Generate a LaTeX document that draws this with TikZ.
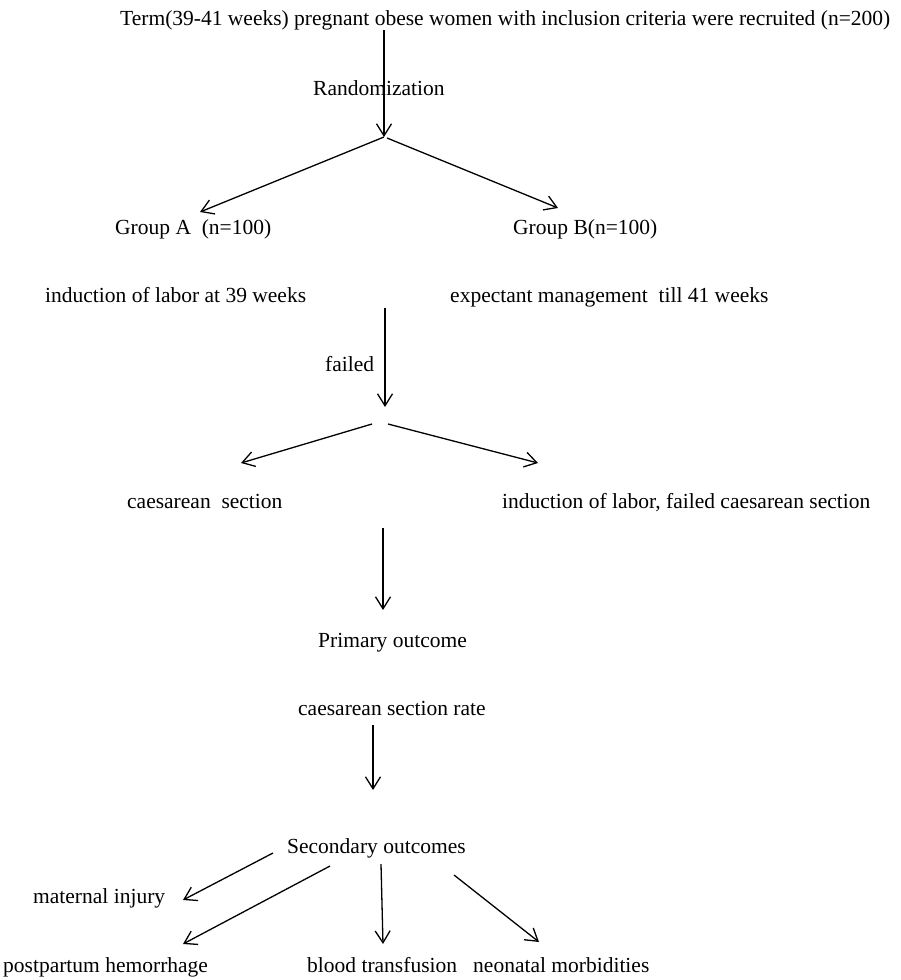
\documentclass[tikz,border=0pt]{standalone}
\usepackage{fontspec}
\setmainfont{Liberation Serif}
\usetikzlibrary{arrows.meta, positioning}

\begin{document}
\begin{tikzpicture}[
		x=1pt, y=-1pt,
		txt/.style={inner sep=0pt, anchor=base west, font=\fontsize{21.5}{26}\selectfont},
		arrow/.style={-{Straight Barb[length=12pt, width=15pt, line width=1.3pt]}, line width=1.3pt},
		plain/.style={line width=1.3pt}
		]
		\useasboundingbox (0,0) rectangle (901,980);
		
		% Nodes
		\node[txt] (term) at (120,25) {Term(39-41 weeks) pregnant obese women with inclusion criteria were recruited (n=200)};
		\node[txt] (rand) at (313,95) {Randomization};
		\node[txt] (grpa) at (115,234) {Group A\ \ (n=100)};
		\node[txt] (grpb) at (513,234) {Group B(n=100)};
		\node[txt] (induct) at (45,302) {induction of labor at 39 weeks};
		\node[txt] (expect) at (450,302) {expectant management\ \ till 41 weeks};
		\node[txt] (failed) at (325,371) {failed};
		\node[txt] (cs) at (127,508) {caesarean\ \ section};
		\node[txt] (iolcs) at (502,508) {induction of labor, failed caesarean section};
		\node[txt] (prim) at (318,647) {Primary outcome};
		\node[txt] (csrate) at (298,715) {caesarean section rate};
		\node[txt] (second) at (287,853) {Secondary outcomes};
		\node[txt] (injury) at (33,903) {maternal injury};
		\node[txt] (pph) at (3,972) {postpartum hemorrhage};
		\node[txt] (blood) at (307,972) {blood transfusion};
		\node[txt] (neo) at (473,972) {neonatal morbidities};
		
		% Arrow ends
		\coordinate (r0) at (384,30);
		\coordinate (r1) at (384,137);
		\coordinate (r2) at (387,138);
		\coordinate (ga) at (200,212);
		\coordinate (gb) at (558,208);
		\coordinate (f0) at (385,308);
		\coordinate (f1) at (385,407);
		\coordinate (s1) at (372,424);
		\coordinate (s2) at (388,424);
		\coordinate (csl) at (241,463);
		\coordinate (csr) at (538,463);
		\coordinate (p0) at (383,528);
		\coordinate (p1) at (383,610);
		\coordinate (q0) at (373,725);
		\coordinate (q1) at (373,790);
		\coordinate (o1) at (273,853);
		\coordinate (o2) at (330,866);
		\coordinate (o3) at (381,864);
		\coordinate (o4) at (454,875);
		\coordinate (mi) at (183,900);
		\coordinate (ph) at (183,944);
		\coordinate (bt) at (383,944);
		\coordinate (nm) at (539,942);
		
		% Arrows
		\draw[arrow] (r0) -- (r1);
		\draw[arrow] (r1) -- (ga);
		\draw[arrow] (r2) -- (gb);
		\draw[arrow] (f0) -- (f1);
		\draw[arrow] (s1) -- (csl);
		\draw[arrow] (s2) -- (csr);
		\draw[arrow] (p0) -- (p1);
		\draw[arrow] (q0) -- (q1);
		\draw[arrow] (o1) -- (mi);
		\draw[arrow] (o2) -- (ph);
		\draw[arrow] (o3) -- (bt);
		\draw[arrow] (o4) -- (nm);
		
	\end{tikzpicture}
\end{document}
